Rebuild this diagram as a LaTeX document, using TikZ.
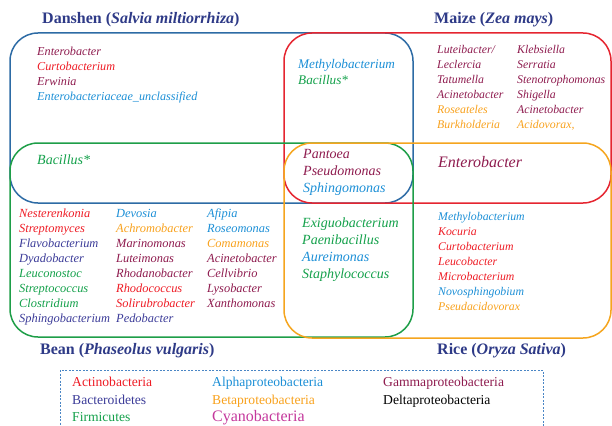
\documentclass[tikz,border=0pt]{standalone}
\usepackage{fontspec}
\setmainfont{Liberation Serif}
\definecolor{act}{HTML}{EE1C25}
\definecolor{bac}{HTML}{3B3B98}
\definecolor{fir}{HTML}{13A04A}
\definecolor{alp}{HTML}{1C8FD6}
\definecolor{bet}{HTML}{F8A11C}
\definecolor{cya}{HTML}{C4389C}
\definecolor{gam}{HTML}{8E1B4E}
\definecolor{del}{HTML}{000000}
\definecolor{ttl}{HTML}{2E3A87}
\definecolor{bxblue}{HTML}{2D6BA5}
\definecolor{bxred}{HTML}{E52530}
\definecolor{bxgreen}{HTML}{1E9E48}
\definecolor{bxorange}{HTML}{F5A51E}
\definecolor{lgd}{HTML}{4A86C5}
\begin{document}
\begin{tikzpicture}[x=1pt,y=-1pt,
  venn/.style={line width=1.5pt, rounded corners=28pt},
  lst/.style={anchor=west, inner sep=0pt, text height=0.7em, text depth=0.22em, font=\fontsize{#1}{#1}\selectfont\itshape},
  lst/.default=12.2,
  ttlnode/.style={anchor=west, inner sep=0pt, text height=0.7em, text depth=0.22em, text=ttl, font=\fontsize{16}{16}\selectfont\bfseries},
  lgdtxt/.style={anchor=west, inner sep=0pt, text height=0.7em, text depth=0.22em, font=\fontsize{13.6}{13.6}\selectfont}]
\useasboundingbox (0,0) rectangle (612,425);
% Venn boxes
\draw[venn, bxblue] (10,33) rectangle (413,203);
\draw[venn, bxred] (284,33) rectangle (611,203);
\draw[venn, bxgreen] (10,143) rectangle (413,337);
\draw[venn, bxorange] (284,143) rectangle (611,338);
% titles
\node[ttlnode] (tdan) at (42,21) {Danshen (\textit{Salvia miltiorrhiza})};
\node[ttlnode] (tmai) at (434,21) {Maize (\textit{Zea mays})};
\node[ttlnode] (tbea) at (40,352) {Bean (\textit{Phaseolus vulgaris})};
\node[ttlnode] (tric) at (437,352) {Rice (\textit{Oryza Sativa})};
% Danshen only
\foreach \t/\c [count=\i] in {Enterobacter/gam, Curtobacterium/act, Erwinia/gam, Enterobacteriaceae\_unclassified/alp}
  \node[lst, text=\c] (dan\i) at (37,{53.5+14.9*(\i-1)}) {\t};
% Danshen & Maize
\foreach \t/\c [count=\i] in {Methylobacterium/alp, Bacillus*/fir}
  \node[lst=13.2, text=\c] (dm\i) at (298,{66+16*(\i-1)}) {\t};
% Maize only
\foreach \t/\c [count=\i] in {{Luteibacter/}/gam, Leclercia/gam, Tatumella/gam, Acinetobacter/gam, Roseateles/bet, Burkholderia/bet}
  \node[lst=11.8, text=\c] (maA\i) at (437,{51.5+15*(\i-1)}) {\t};
\foreach \t/\c [count=\i] in {Klebsiella/gam, Serratia/gam, Stenotrophomonas/gam, Shigella/gam, Acinetobacter/gam, {Acidovorax,}/bet}
  \node[lst=11.8, text=\c] (maB\i) at (517,{51.5+15*(\i-1)}) {\t};
% Danshen & Bean
\node[lst=14, text=fir] (db1) at (37,162) {Bacillus*};
% all four
\foreach \t/\c [count=\i] in {Pantoea/gam, Pseudomonas/gam, Sphingomonas/alp}
  \node[lst=14, text=\c] (all\i) at (303,{156+17*(\i-1)}) {\t};
% Maize & Rice
\node[lst=16, text=gam] (mr1) at (438,165) {Enterobacter};
% Bean only
\foreach \t/\c [count=\i] in {Nesterenkonia/act, Streptomyces/act, Flavobacterium/bac, Dyadobacter/bac, Leuconostoc/fir, Streptococcus/fir, Clostridium/fir, Sphingobacterium/bac}
  \node[lst=12.4, text=\c] (beA\i) at (19,{215+15*(\i-1)}) {\t};
\foreach \t/\c [count=\i] in {Devosia/alp, Achromobacter/bet, Marinomonas/gam, Luteimonas/gam, Rhodanobacter/gam, Rhodococcus/act, Solirubrobacter/act, Pedobacter/bac}
  \node[lst=12.4, text=\c] (beB\i) at (116,{215+15*(\i-1)}) {\t};
\foreach \t/\c [count=\i] in {Afipia/alp, Roseomonas/alp, Comamonas/bet, Acinetobacter/gam, Cellvibrio/gam, Lysobacter/gam, Xanthomonas/gam}
  \node[lst=12.4, text=\c] (beC\i) at (207,{215+15*(\i-1)}) {\t};
% Bean & Rice
\foreach \t/\c [count=\i] in {Exiguobacterium/fir, Paenibacillus/fir, Aureimonas/alp, Staphylococcus/fir}
  \node[lst=14, text=\c] (br\i) at (302,{225+17*(\i-1)}) {\t};
% Rice only
\foreach \t/\c [count=\i] in {Methylobacterium/alp, Kocuria/act, Curtobacterium/act, Leucobacter/act, Microbacterium/act, Novosphingobium/alp, Pseudacidovorax/bet}
  \node[lst=11.8, text=\c] (ri\i) at (438,{218+15*(\i-1)}) {\t};
% legend
\draw[draw=lgd, line width=0.9pt, dash pattern=on 2pt off 1.5pt] (60,370) rectangle (543,440);
\node[lgdtxt, text=act] (l1) at (72,384) {Actinobacteria};
\node[lgdtxt, text=bac] (l2) at (72,402) {Bacteroidetes};
\node[lgdtxt, text=fir] (l3) at (72,419.5) {Firmicutes};
\node[lgdtxt, text=alp] (l4) at (212,384) {Alphaproteobacteria};
\node[lgdtxt, text=bet] (l5) at (212,402) {Betaproteobacteria};
\node[lgdtxt, text=cya, font=\fontsize{16}{16}\selectfont] (l6) at (212,419.5) {Cyanobacteria};
\node[lgdtxt, text=gam] (l7) at (383,384) {Gammaproteobacteria};
\node[lgdtxt, text=del] (l8) at (383,402) {Deltaproteobacteria};
\end{tikzpicture}
\end{document}
